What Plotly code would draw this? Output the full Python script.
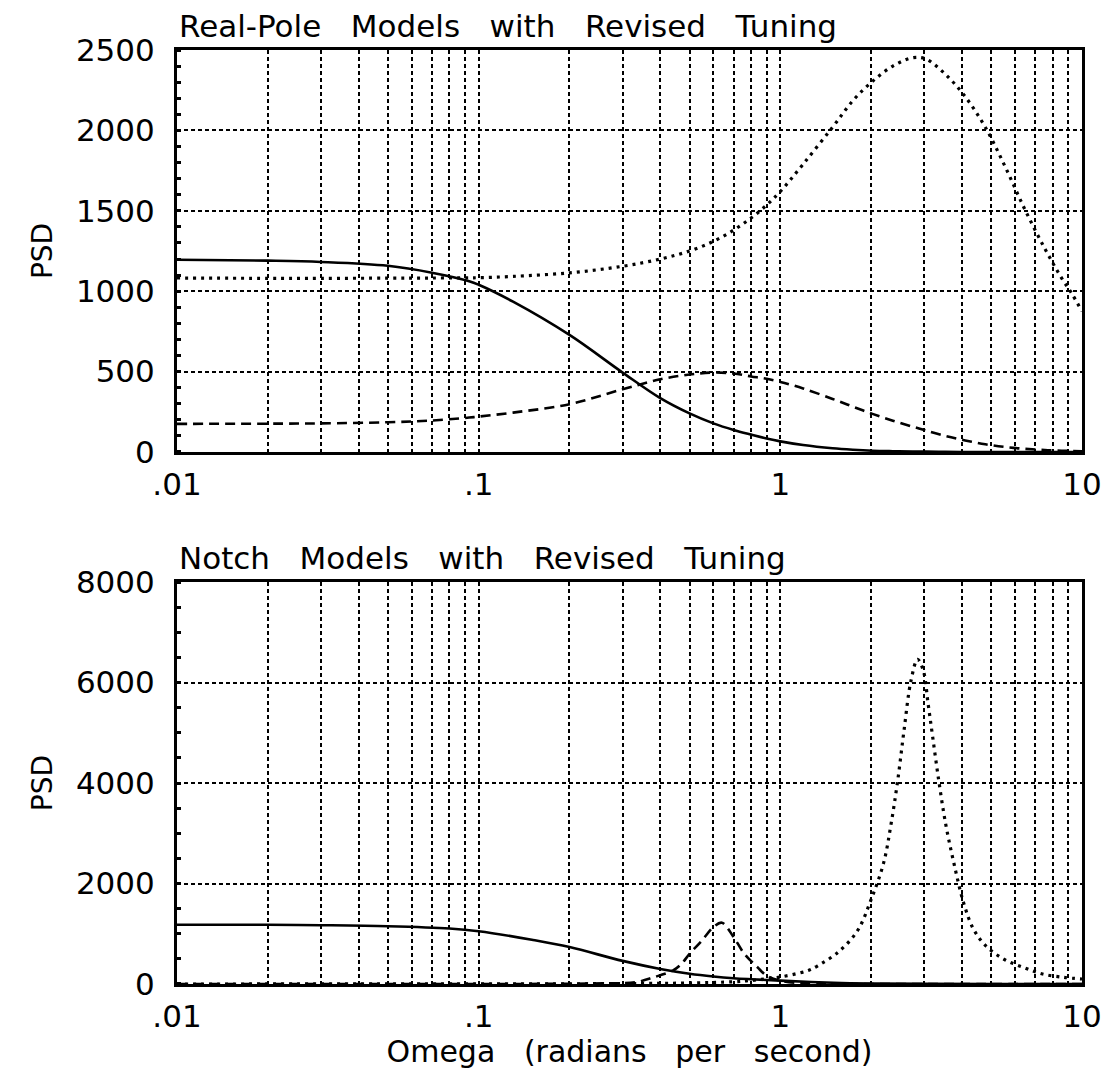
import plotly.graph_objects as go
from plotly.subplots import make_subplots

# ---------------- data ----------------
omega_top = [0.01, 0.02, 0.03, 0.05, 0.07, 0.093, 0.1, 0.13, 0.2, 0.3, 0.4, 0.5, 0.6, 0.7,
             0.8, 0.9, 1.0, 1.19, 1.49, 1.74, 2.02, 2.36, 2.74, 3.03, 3.52, 4.1, 4.78,
             5.56, 6.46, 7.53, 8.57, 9.25, 10]
top_solid = [1196, 1190, 1182, 1158, 1115, 1062, 1040, 935, 728, 494, 335, 240, 178, 137,
             108, 84, 66, 43, 23, 14, 8, 5, 3, 2, 1, 0, 0,
             0, 0, 0, 0, 0, 0]
top_dashed = [175, 176, 178, 185, 196, 214, 220, 245, 297, 390, 452, 482, 494, 488,
              470, 455, 436, 395, 330, 282, 237, 195, 158, 134, 100, 72, 48,
              31, 20, 12, 8, 6, 5]
top_dotted = [1082, 1080, 1080, 1081, 1082, 1083, 1084, 1092, 1114, 1155, 1200, 1250, 1310, 1380,
              1455, 1535, 1620, 1790, 2020, 2185, 2305, 2400, 2452, 2445, 2350, 2210, 2020,
              1775, 1510, 1265, 1080, 985, 875]

omega_bot_solid = [0.01, 0.02, 0.03, 0.05, 0.08, 0.1, 0.15, 0.2, 0.3, 0.4, 0.5, 0.6,
                   0.7, 0.8, 0.9, 1.0, 1.5, 2, 3, 5, 10]
bot_solid = [1180, 1178, 1170, 1150, 1105, 1050, 880, 735, 460, 300, 205, 150,
             115, 95, 80, 67, 25, 10, 3, 0, 0]

omega_bot_dashed = [0.01, 0.1, 0.2, 0.27, 0.33, 0.38, 0.44, 0.47, 0.5, 0.55, 0.6, 0.64,
                    0.7, 0.76, 0.84, 0.9, 1.0, 1.2, 2, 10]
bot_dashed = [0, 0, 5, 15, 33, 133, 267, 400, 600, 867, 1133, 1220,
              933, 600, 333, 167, 67, 15, 0, 0]

omega_bot_dotted = [0.01, 0.1, 0.3, 0.5, 0.7, 0.8, 0.9, 1.0, 1.14, 1.25, 1.33, 1.55, 1.8,
                    2.0, 2.2, 2.33, 2.45, 2.57, 2.71, 2.85, 2.98, 3.09, 3.2, 3.35, 3.53,
                    3.76, 4.05, 4.37, 4.8, 5.5, 6.4, 7.4, 8.7, 10]
bot_dotted = [0, 3, 8, 20, 45, 70, 105, 140, 210, 280, 363, 627, 1056,
              1683, 2410, 3195, 4053, 5043, 6033, 6462, 6231, 5571, 4911, 4053, 3195,
              2409, 1617, 1089, 759, 495, 330, 198, 132, 99]

x_tickvals = [m * 10 ** e for e in (-2, -1, 0) for m in range(1, 10)] + [10]
x_labels = {0.01: ".01", 0.1: ".1", 1: "1", 10: "10"}
x_ticktext = [x_labels.get(round(v, 4), "") for v in x_tickvals]
top_yticks = [0, 500, 1000, 1500, 2000, 2500]
bot_yticks = [0, 2000, 4000, 6000, 8000]

SP = "&nbsp;&nbsp;&nbsp;"
top_title = SP.join(["Real-Pole", "Models", "with", "Revised", "Tuning"])
bot_title = SP.join(["Notch", "Models", "with", "Revised", "Tuning"])
x_title = SP.join(["Omega", "(radians", "per", "second)"])

# ---------------- figure ----------------
FONT = "DejaVu Sans"
fig = make_subplots(rows=2, cols=1, vertical_spacing=0.1392)

lw = 2.6
solid = dict(color="black", width=lw, shape="spline")
dashed = dict(color="black", width=lw, dash="10px,6px", shape="spline")
dotted = dict(color="black", width=3.2, dash="3px,5px", shape="spline")

fig.add_trace(go.Scatter(x=omega_top, y=top_solid, mode="lines", line=solid), row=1, col=1)
fig.add_trace(go.Scatter(x=omega_top, y=top_dashed, mode="lines", line=dashed), row=1, col=1)
fig.add_trace(go.Scatter(x=omega_top, y=top_dotted, mode="lines", line=dotted), row=1, col=1)

fig.add_trace(go.Scatter(x=omega_bot_solid, y=bot_solid, mode="lines", line=solid), row=2, col=1)
fig.add_trace(go.Scatter(x=omega_bot_dashed, y=bot_dashed, mode="lines", line=dashed), row=2, col=1)
fig.add_trace(go.Scatter(x=omega_bot_dotted, y=bot_dotted, mode="lines", line=dotted), row=2, col=1)

GRID = dict(showgrid=True, gridcolor="black", gridwidth=2, griddash="4px,3px")
tickfont = dict(family=FONT, size=31, color="black")

fig.update_xaxes(type="log", range=[-2, 1], tickvals=x_tickvals, ticktext=x_ticktext,
                 showline=True, linecolor="black", linewidth=3, mirror=True,
                 ticks="", ticklabelstandoff=3, tickfont=tickfont, zeroline=False, **GRID)
fig.update_xaxes(title=dict(text=x_title, font=dict(family=FONT, size=30, color="black"),
                            standoff=8), row=2, col=1)

fig.update_yaxes(showline=True, linecolor="black", linewidth=3, mirror=True,
                 ticks="", ticklabelstandoff=13, zeroline=False, tickfont=tickfont,
                 title=dict(text="PSD", font=dict(family=FONT, size=28, color="black"),
                            standoff=16), **GRID)
fig.update_yaxes(range=[0, 2500], tickvals=top_yticks,
                 minor=dict(dtick=100, ticks="inside", ticklen=4, tickwidth=2.5,
                            tickcolor="black", showgrid=False), row=1, col=1)
fig.update_yaxes(range=[0, 8000], tickvals=bot_yticks,
                 minor=dict(dtick=500, ticks="inside", ticklen=4, tickwidth=2.5,
                            tickcolor="black", showgrid=False), row=2, col=1)

title_font = dict(family=FONT, size=31, color="black")
fig.add_annotation(text=top_title, xref="x domain", yref="y domain", x=0, y=1.0,
                   xanchor="left", yanchor="bottom", yshift=4, showarrow=False, font=title_font)
fig.add_annotation(text=bot_title, xref="x2 domain", yref="y2 domain", x=0, y=1.0,
                   xanchor="left", yanchor="bottom", yshift=4, showarrow=False, font=title_font)

fig.update_layout(width=1114, height=1085, showlegend=False,
                  margin=dict(l=177, r=29, t=50, b=101),
                  paper_bgcolor="white", plot_bgcolor="white")

fig.write_html("out.html")
